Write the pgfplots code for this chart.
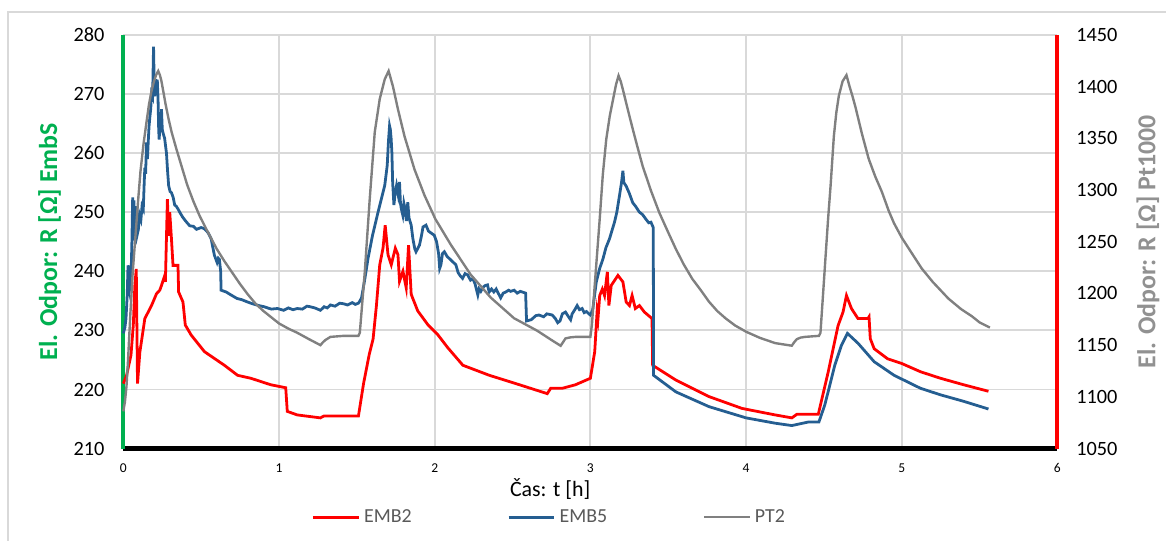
\documentclass[border=0pt]{standalone}
\usepackage{pgfplots}
\pgfplotsset{compat=1.18}
\usepackage{fontspec}
\setmainfont{Carlito}
\definecolor{cred}{RGB}{255,0,0}
\definecolor{cblue}{RGB}{37,94,145}
\definecolor{cgray}{RGB}{128,128,128}
\definecolor{cgreen}{RGB}{0,176,80}
\definecolor{cgrid}{RGB}{217,217,217}
\definecolor{clabgray}{RGB}{145,145,145}
\definecolor{clegtext}{RGB}{89,89,89}
\begin{document}
\begin{tikzpicture}
\pgfplotsset{
  common/.style={
    scale only axis, width=469.5pt, height=208pt,
    xmin=0, xmax=6,
    /pgf/number format/assume math mode=true,
    /pgf/number format/1000 sep={},
    tick style={draw=none},
    clip=false,
  }
}
\begin{axis}[common, name=main,
  ymin=210, ymax=280, ytick={210,220,...,280},
  xtick={0,1,...,6},
  grid=major, major grid style={cgrid, line width=0.9pt},
  axis x line*=bottom, axis y line*=left,
  x axis line style={black, line width=2.2pt, -},
  y axis line style={cgreen, line width=2pt, -},
  x tick label style={font=\fontsize{6.8}{7}\selectfont, yshift=-4pt},
  y tick label style={font=\fontsize{10.2}{12}\selectfont, xshift=-6pt},
  xlabel={Čas: t [h]},
  x label style={at={(axis description cs:0.457,-0.0986)}, anchor=center, font=\fontsize{11}{13}\selectfont},
  ylabel={El. Odpor: R [Ω] EmbS},
  y label style={at={(axis description cs:-0.0788,0.5)}, anchor=center, font=\bfseries\fontsize{13}{15}\selectfont, text=cgreen},
]
\addplot[cred, line width=1.4pt] coordinates {
(0,221) (0.021,222.4) (0.049,225.8) (0.064,230.9) (0.074,237.6) (0.083,240.4) (0.091,221)
(0.106,226.3) (0.138,232) (0.181,234.2) (0.213,236.2) (0.234,236.8) (0.245,237.6) (0.266,239.3)
(0.27,238.2) (0.283,252.2) (0.291,246) (0.298,250) (0.309,245.5) (0.319,241) (0.351,241)
(0.355,236.5) (0.383,234.8) (0.398,230.9) (0.436,229.2) (0.521,226.4) (0.649,224.1) (0.734,222.4)
(0.819,221.9) (0.947,220.8) (1.043,220.3) (1.053,216.3) (1.117,215.7) (1.266,215.2) (1.287,215.5)
(1.51,215.5) (1.543,221) (1.58,226) (1.604,228.5) (1.625,234) (1.647,241.1) (1.668,243.9)
(1.682,247.8) (1.7,242.8) (1.721,241.1) (1.747,243.9) (1.764,242.8) (1.774,238.3) (1.796,240)
(1.817,237.2) (1.832,244.4) (1.849,236.1) (1.891,233.3) (1.955,231) (2.019,229.3) (2.083,227.1)
(2.181,224.1) (2.351,222.4) (2.521,221) (2.723,219.3) (2.745,220.2) (2.819,220.2) (2.904,220.8) (3.0,221.9)
(3.028,226.4) (3.043,233.1) (3.049,232) (3.06,235.9) (3.077,237) (3.091,235.9) (3.109,239.9)
(3.119,234.2) (3.134,237.6) (3.177,239.3) (3.209,238.2) (3.23,234.8) (3.251,234.2) (3.268,235.9)
(3.289,233.7) (3.315,234.2) (3.347,233.1) (3.396,232) (3.4,224.1) (3.549,221.6) (3.762,218.8)
(3.974,216.8) (4.187,215.7) (4.294,215.2) (4.326,215.8) (4.464,215.8) (4.528,223) (4.591,230.8)
(4.623,233.1) (4.645,235.9) (4.677,233.7) (4.719,232) (4.783,232) (4.79,232.3) (4.798,228.6)
(4.823,226.9) (4.909,225.2) (5.0,224.4) (5.121,223) (5.249,221.9) (5.398,220.8) (5.557,219.7)
};
\addplot[cblue, line width=1.4pt] coordinates {
(0,229.5) (0.01,230.5) (0.017,232) (0.025,236) (0.03,241) (0.036,240) (0.042,237.3) (0.049,238.5)
(0.055,245) (0.06,252.5) (0.064,248) (0.068,252) (0.072,246.5) (0.078,247) (0.085,251) (0.09,246.3)
(0.096,247) (0.105,249.5) (0.113,248.8) (0.12,251) (0.128,250.5) (0.134,255) (0.138,257.5) (0.143,256.5)
(0.149,261.8) (0.155,259) (0.16,262) (0.165,264.5) (0.17,266) (0.176,267.5) (0.181,270) (0.188,269.5)
(0.194,278) (0.198,272) (0.202,269.6) (0.208,272.5) (0.213,271) (0.218,272.4) (0.223,269) (0.227,264)
(0.23,262.3) (0.236,265) (0.24,263.5) (0.245,267.4) (0.25,264) (0.255,263.4) (0.265,262.5) (0.277,260)
(0.284,257) (0.291,254.5) (0.3,253.5) (0.309,253.3) (0.32,252.5) (0.33,251.2) (0.34,251) (0.352,250.5)
(0.362,250) (0.38,249.2) (0.4,248.5) (0.426,247.7) (0.45,247.6) (0.47,247.1) (0.5,247.4) (0.521,247.2)
(0.545,246.5) (0.564,245.5) (0.575,244) (0.585,242.7) (0.595,242) (0.602,241.5) (0.61,242.2) (0.617,242)
(0.625,240) (0.628,236.8) (0.66,236.5) (0.691,236) (0.73,235.4) (0.76,235.2) (0.798,234.8) (0.83,234.5)
(0.87,234.2) (0.904,234) (0.95,233.6) (0.99,233.7) (1.03,233.4) (1.06,233.8) (1.09,233.5) (1.117,233.7)
(1.15,233.6) (1.18,234.1) (1.2,234) (1.23,233.8) (1.266,233.4) (1.29,234) (1.31,233.8) (1.33,234.3)
(1.36,234.1) (1.39,234.6) (1.415,234.5) (1.44,234.3) (1.47,234.7) (1.49,234.4) (1.51,234.6) (1.52,235)
(1.53,235.5) (1.55,238.5) (1.572,242.2) (1.6,246) (1.636,250) (1.66,252.5) (1.679,254.5) (1.695,257.9)
(1.703,262) (1.71,264.6) (1.715,264) (1.72,262.5) (1.725,260.1) (1.73,255) (1.738,251.2) (1.745,253)
(1.755,254.5) (1.765,253) (1.774,255.1) (1.78,251.5) (1.786,250.5) (1.795,249.5) (1.802,251.5) (1.81,250.5)
(1.818,248.5) (1.827,251.7) (1.835,249) (1.849,247.8) (1.86,245.5) (1.872,243.8) (1.88,243.3) (1.89,243.8)
(1.902,244.4) (1.915,246) (1.925,247.5) (1.944,247.8) (1.96,246.8) (1.975,246.5) (1.997,246.1) (2.012,245)
(2.025,243) (2.032,240.5) (2.04,241.1) (2.05,243) (2.062,243.3) (2.08,242.5) (2.1,242) (2.12,241.5)
(2.136,241.1) (2.15,239.8) (2.165,239.2) (2.179,238.8) (2.195,239.6) (2.211,239.4) (2.23,238.5) (2.245,238.8)
(2.26,237.8) (2.277,236) (2.285,237) (2.296,236.6) (2.31,237.3) (2.325,237.6) (2.339,237.7) (2.35,236.5)
(2.365,237) (2.38,236.5) (2.395,237) (2.41,236.2) (2.424,235.5) (2.44,236.3) (2.457,236.5) (2.475,236.8)
(2.488,236.6) (2.51,236.8) (2.53,236.3) (2.55,236.6) (2.584,236.3) (2.59,231.6) (2.62,231.8) (2.65,232.5)
(2.67,232.6) (2.7,232.3) (2.72,232.8) (2.755,232.6) (2.775,232) (2.79,231.3) (2.805,231.6) (2.82,232.8)
(2.84,233.1) (2.86,232.3) (2.873,231.8) (2.883,232.8) (2.9,233.5) (2.915,234.2) (2.93,233.5) (2.947,233.7)
(2.96,233) (2.975,233.2) (2.99,232.8) (3.0,232.6) (3.015,233.5) (3.038,238.2) (3.06,240.5) (3.081,242.1)
(3.1,244) (3.123,245.5) (3.14,247) (3.155,248.3) (3.17,250) (3.187,252.8) (3.2,255) (3.209,257)
(3.215,255) (3.23,254.4) (3.25,253.2) (3.272,251.6) (3.29,251) (3.315,250) (3.335,249.6) (3.357,248.8)
(3.375,248.2) (3.389,248.3) (3.404,247.4) (3.406,222.4) (3.549,219.6) (3.762,217.1) (4.0,215.2)
(4.187,214.3) (4.294,213.9) (4.4,214.5) (4.468,214.5) (4.506,217.4) (4.57,224.1) (4.613,227.5)
(4.651,229.5) (4.72,227.8) (4.823,224.7) (4.951,222.4) (5.121,220.2) (5.249,219.1) (5.398,218) (5.557,216.7)
};
\end{axis}
\begin{axis}[common,
  ymin=1050, ymax=1450, ytick={1050,1100,...,1450},
  axis x line=none, axis y line*=right,
  y axis line style={cred, line width=2pt, -},
  y tick label style={font=\fontsize{10.2}{12}\selectfont, xshift=6pt},
  ylabel={El. Odpor: R [Ω] Pt1000},
  y label style={at={(axis description cs:1.0969,0.5)}, anchor=center, font=\bfseries\fontsize{13}{15}\selectfont, text=clabgray},
  legend style={at={(axis description cs:0.457,-0.1659)}, anchor=center, draw=none, fill=none,
    legend columns=3, font=\fontsize{10}{12}\selectfont, text=clegtext,
    /tikz/every even column/.append style={column sep=46pt}},
  legend image code/.code={\draw[#1] (0pt,0pt) -- (23pt,0pt);},
]
\addlegendimage{cred, line width=1.4pt}\addlegendentry{EMB2}
\addlegendimage{cblue, line width=1.4pt}\addlegendentry{EMB5}
\addplot[cgray, line width=1.2pt] coordinates {
(0,1086) (0.01,1095) (0.02,1110) (0.03,1135) (0.045,1180) (0.06,1220) (0.075,1250) (0.095,1290)
(0.11,1318) (0.13,1345) (0.15,1367) (0.165,1383) (0.18,1395) (0.195,1404) (0.21,1411) (0.224,1415)
(0.235,1411) (0.245,1405) (0.257,1395) (0.27,1384) (0.29,1369) (0.31,1356) (0.34,1340) (0.37,1325)
(0.41,1305) (0.45,1289) (0.49,1275) (0.53,1263) (0.6,1243) (0.65,1231) (0.7,1220) (0.75,1209)
(0.8,1199) (0.85,1190) (0.9,1183) (0.95,1177) (1.0,1171) (1.06,1166) (1.117,1162) (1.19,1156)
(1.266,1150) (1.28,1152.5) (1.298,1155) (1.33,1158) (1.415,1159) (1.51,1159) (1.519,1162)
(1.551,1221) (1.583,1292) (1.615,1356) (1.647,1388) (1.679,1407) (1.704,1415) (1.732,1400)
(1.764,1378) (1.806,1352) (1.87,1320) (1.934,1295) (2.004,1272) (2.104,1247) (2.232,1218)
(2.36,1196) (2.51,1176) (2.658,1164) (2.75,1155) (2.809,1149.4) (2.825,1153) (2.84,1156.5)
(2.87,1157.5) (2.904,1158) (3.0,1158) (3.01,1170) (3.028,1208) (3.06,1272) (3.08,1315) (3.102,1349)
(3.125,1372) (3.145,1387) (3.165,1402) (3.181,1410.5) (3.195,1405) (3.209,1397) (3.24,1378)
(3.272,1359) (3.3,1343) (3.336,1323) (3.39,1299) (3.443,1278) (3.5,1259) (3.549,1243) (3.6,1228)
(3.655,1214) (3.71,1203) (3.762,1192) (3.815,1183) (3.868,1176) (3.93,1169) (4.0,1163) (4.09,1157)
(4.187,1152) (4.25,1150.5) (4.294,1149.5) (4.31,1153) (4.326,1155.8) (4.35,1157.3) (4.379,1158)
(4.468,1159) (4.478,1162) (4.495,1200) (4.51,1234) (4.527,1272) (4.543,1304) (4.564,1352)
(4.58,1375) (4.596,1391) (4.62,1405) (4.645,1411) (4.665,1400) (4.683,1391) (4.703,1380)
(4.745,1354) (4.788,1330) (4.83,1313) (4.873,1298) (4.916,1280) (4.95,1268) (5.0,1254) (5.06,1240)
(5.129,1224) (5.2,1211) (5.3,1195) (5.38,1185) (5.45,1178) (5.5,1172) (5.566,1167)
};
\addlegendentry{PT2}
\end{axis}
\path[use as bounding box] ([xshift=-62pt,yshift=-46pt]main.south west) rectangle ([xshift=51.5pt,yshift=17.5pt]main.north east);
\draw[cgrid, line width=0.7pt] ([xshift=-58pt,yshift=-60pt]main.south west) -- ([xshift=-58pt,yshift=11.5pt]main.north west) -- ([xshift=70pt,yshift=11.5pt]main.north east);
\end{tikzpicture}
\end{document}
